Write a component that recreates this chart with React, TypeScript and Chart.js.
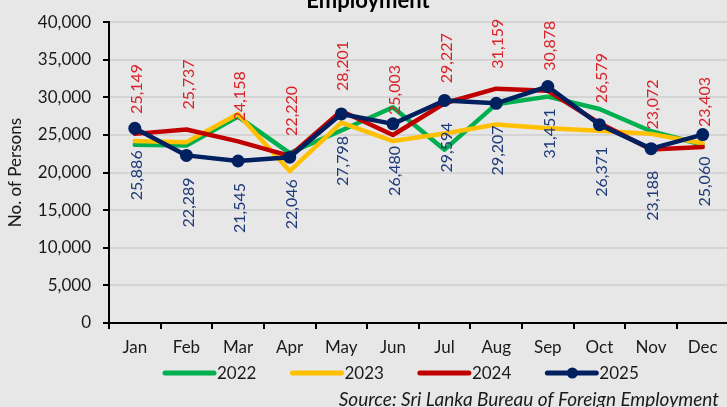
import React, { useEffect, useRef } from 'react';
import { Chart, registerables } from 'chart.js';

Chart.register(...registerables);

const months = ['Jan', 'Feb', 'Mar', 'Apr', 'May', 'Jun', 'Jul', 'Aug', 'Sep', 'Oct', 'Nov', 'Dec'];
const y2022 = [23700, 23600, 27450, 22600, 25600, 28700, 23050, 29100, 30100, 28450, 25500, 23700];
const y2023 = [24200, 24050, 27800, 20200, 26650, 24200, 25200, 26400, 25900, 25550, 25150, 23900];
const y2024 = [25149, 25737, 24158, 22220, 28201, 25003, 29227, 31159, 30878, 26579, 23072, 23403];
const y2025 = [25886, 22289, 21545, 22046, 27798, 26480, 29594, 29207, 31451, 26371, 23188, 25060];
const seriesNames = ['2022', '2023', '2024', '2025'];
const yMin = 0;
const yMax = 40000;
const yStep = 5000;
const titleText = 'Employment';
const yTitle = 'No. of Persons';
const sourceText = 'Source: Sri Lanka Bureau of Foreign Employment';

const FONT = 'Lato, "Open Sans", sans-serif';
const TEXT = '#1a1a1a';
const colors = ['#00b050', '#ffc000', '#c00000', '#002060'];
const labelColors: Record<string, string> = { '2024': '#d8232a', '2025': '#1f3a78' };

const fmt = (v: number) => v.toLocaleString('en-US');

const valueLabels = {
  id: 'valueLabels',
  afterDatasetsDraw(chart: any) {
    const ctx = chart.ctx;
    chart.data.datasets.forEach((ds: any, i: number) => {
      const col = labelColors[ds.label];
      if (!col) return;
      const above = ds.label === '2024';
      const meta = chart.getDatasetMeta(i);
      meta.data.forEach((pt: any, j: number) => {
        ctx.save();
        ctx.translate(pt.x + 2, pt.y + (above ? -20 : 22));
        ctx.rotate(-Math.PI / 2);
        ctx.font = `16px ${FONT}`;
        ctx.fillStyle = col;
        ctx.textAlign = above ? 'left' : 'right';
        ctx.textBaseline = 'middle';
        ctx.fillText(fmt(ds.data[j]), 0, 0);
        ctx.restore();
      });
    });
  },
};

const decorations = {
  id: 'decorations',
  afterDraw(chart: any) {
    const ctx = chart.ctx;
    ctx.save();
    // title (partly cut off at the top)
    ctx.font = `bold 22px ${FONT}`;
    ctx.fillStyle = '#000';
    ctx.textAlign = 'center';
    ctx.textBaseline = 'alphabetic';
    ctx.fillText(titleText, 368, 8);

    // legend
    ctx.font = `17px ${FONT}`;
    ctx.textBaseline = 'middle';
    ctx.textAlign = 'left';
    let x = 165;
    const ly = 373;
    chart.data.datasets.forEach((ds: any) => {
      ctx.strokeStyle = ds.borderColor;
      ctx.lineWidth = 5;
      ctx.lineCap = 'round';
      ctx.beginPath();
      ctx.moveTo(x, ly);
      ctx.lineTo(x + 49, ly);
      ctx.stroke();
      if (ds.pointRadius > 0) {
        ctx.fillStyle = ds.borderColor;
        ctx.beginPath();
        ctx.arc(x + 25, ly, 5.5, 0, Math.PI * 2);
        ctx.fill();
      }
      ctx.fillStyle = TEXT;
      ctx.fillText(ds.label, x + 52, ly + 1);
      const w = ctx.measureText(ds.label).width;
      x += 52 + w + 36;
    });

    // source
    ctx.font = `italic 19px ${FONT}`;
    ctx.textAlign = 'right';
    ctx.textBaseline = 'middle';
    ctx.fillStyle = TEXT;
    ctx.fillText(sourceText, 719, 400);
    ctx.restore();
  },
};

export default function App() {
  const ref = useRef<HTMLCanvasElement>(null);
  useEffect(() => {
    if (!ref.current) return;
    const data = [y2022, y2023, y2024, y2025];
    const chart = new Chart(ref.current, {
      type: 'line',
      data: {
        labels: months,
        datasets: seriesNames.map((name, i) => ({
          label: name,
          data: data[i],
          borderColor: colors[i],
          backgroundColor: colors[i],
          borderWidth: 4.5,
          borderJoinStyle: 'round',
          borderCapStyle: 'round',
          pointRadius: name === '2025' ? 6.5 : 0,
          pointHoverRadius: name === '2025' ? 6.5 : 0,
          pointBackgroundColor: colors[i],
          pointBorderWidth: 0,
          tension: 0,
          order: 3 - i,
        })),
      },
      options: {
        responsive: false,
        animation: false,
        events: [],
        layout: { padding: { left: 0, right: 4, top: 17, bottom: 49 } },
        plugins: {
          legend: { display: false },
          tooltip: { enabled: false },
          title: { display: false },
        },
        scales: {
          x: {
            offset: true,
            grid: {
              offset: true,
              drawOnChartArea: false,
              tickColor: '#000',
              tickLength: 6,
              lineWidth: 2,
            },
            border: { color: '#000', width: 2 },
            ticks: {
              color: TEXT,
              font: { family: FONT, size: 17 },
              padding: 8,
              maxRotation: 0,
              autoSkip: false,
            },
            afterFit: (s: any) => {
              s.height = 35;
            },
          },
          y: {
            min: yMin,
            max: yMax,
            ticks: {
              stepSize: yStep,
              callback: (v: any) => fmt(Number(v)),
              color: TEXT,
              font: { family: FONT, size: 17 },
              padding: 12,
            },
            grid: { color: '#d4d4d4', lineWidth: 2, tickColor: '#000', tickLength: 6 },
            border: { color: '#000', width: 2 },
            title: {
              display: true,
              text: yTitle,
              color: TEXT,
              font: { family: FONT, size: 17 },
              padding: { top: 5, bottom: 0 },
            },
            afterFit: (s: any) => {
              s.width = 109;
            },
          },
        },
      },
      plugins: [valueLabels, decorations],
    } as any);
    return () => chart.destroy();
  }, []);
  return (
    <div
      style={{
        position: 'fixed',
        left: 0,
        top: 0,
        width: 727,
        height: 407,
        overflow: 'hidden',
        background: '#e7e7e7',
      }}
    >
      <canvas ref={ref} width={735} height={407} style={{ display: 'block' }} />
    </div>
  );
}
